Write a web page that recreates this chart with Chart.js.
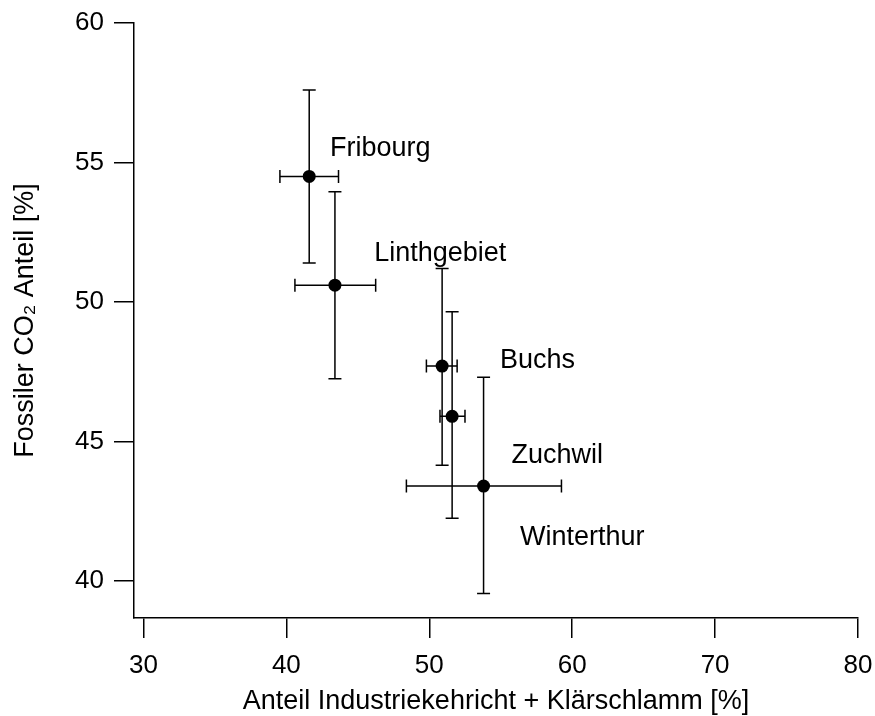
<!DOCTYPE html>
<html lang="de">
<head>
    <meta charset="UTF-8">
    <title>Fossiler CO2 Anteil</title>
    <style>
        * { margin: 0; padding: 0; box-sizing: border-box; }
        body { background: #fff; width: 875px; height: 716px; overflow: hidden; }
        .chart-box { position: relative; width: 875px; height: 716px; }
    </style>
</head>
<body>
    <div class="chart-box">
        <canvas id="chart"></canvas>
    </div>

    <script src="https://cdn.jsdelivr.net/npm/chart.js"></script>
    <script>
        // Daten
        const names = ["Fribourg", "Linthgebiet", "Buchs", "Zuchwil", "Winterthur"];
        const xValues = [41.6, 43.4, 50.9, 51.6, 53.8];
        const yValues = [54.5, 50.6, 47.7, 45.9, 43.4];
        const xErrLow = [39.55, 40.6, 49.8, 50.75, 48.4];
        const xErrHigh = [43.65, 46.25, 51.95, 52.5, 59.25];
        const yErrLow = [51.4, 47.25, 44.15, 42.25, 39.55];
        const yErrHigh = [57.6, 53.95, 51.2, 49.65, 47.3];
        // Beschriftungen (Datenkoordinaten, linker Rand / Mitte)
        const labelX = [43.05, 46.15, 54.95, 55.75, 56.35];
        const labelY = [55.5, 51.75, 47.9, 44.5, 41.55];
        const xTicks = [30, 40, 50, 60, 70, 80];
        const yTicks = [40, 45, 50, 55, 60];

        const FONT = "'Liberation Sans', Arial, sans-serif";

        // Fehlerbalken unter den Punkten, Namen darueber
        const errorBars = {
            id: 'errorBars',
            beforeDatasetsDraw(chart) {
                const c = chart.ctx;
                const xs = chart.scales.x, ys = chart.scales.y;
                const cap = 6.5;
                c.save();
                c.strokeStyle = '#000';
                c.lineWidth = 1.5;
                for (let i = 0; i < xValues.length; i++) {
                    const px = xs.getPixelForValue(xValues[i]);
                    const py = ys.getPixelForValue(yValues[i]);
                    const x0 = xs.getPixelForValue(xErrLow[i]);
                    const x1 = xs.getPixelForValue(xErrHigh[i]);
                    const y0 = ys.getPixelForValue(yErrLow[i]);
                    const y1 = ys.getPixelForValue(yErrHigh[i]);
                    c.beginPath();
                    c.moveTo(x0, py); c.lineTo(x1, py);
                    c.moveTo(x0, py - cap); c.lineTo(x0, py + cap);
                    c.moveTo(x1, py - cap); c.lineTo(x1, py + cap);
                    c.moveTo(px, y0); c.lineTo(px, y1);
                    c.moveTo(px - cap, y0); c.lineTo(px + cap, y0);
                    c.moveTo(px - cap, y1); c.lineTo(px + cap, y1);
                    c.stroke();
                }
                c.restore();
            },
            afterDatasetsDraw(chart) {
                const c = chart.ctx;
                const xs = chart.scales.x, ys = chart.scales.y;
                c.save();
                c.fillStyle = '#000';
                c.font = '27px ' + FONT;
                c.textAlign = 'left';
                c.textBaseline = 'middle';
                for (let i = 0; i < names.length; i++) {
                    c.fillText(names[i], xs.getPixelForValue(labelX[i]), ys.getPixelForValue(labelY[i]));
                }
                c.restore();
            }
        };

        const ctx = document.getElementById('chart');
        const chart = new Chart(ctx, {
            type: 'scatter',
            data: {
                datasets: [{
                    data: xValues.map((v, i) => ({ x: v, y: yValues[i] })),
                    pointRadius: 6.5,
                    pointBackgroundColor: '#000',
                    pointBorderColor: '#000',
                    pointBorderWidth: 0
                }]
            },
            plugins: [errorBars],
            options: {
                responsive: true,
                maintainAspectRatio: false,
                animation: false,
                events: [],
                layout: { padding: { top: 23, right: 17, left: 0, bottom: 0 } },
                plugins: { legend: { display: false }, tooltip: { enabled: false } },
                scales: {
                    x: {
                        type: 'linear',
                        min: 29.34,
                        max: 80,
                        afterBuildTicks: s => { s.ticks = xTicks.map(v => ({ value: v })); },
                        afterFit: s => { s.height = 98; s.paddingLeft = 0; s.paddingRight = 0; },
                        border: { display: true, color: '#000', width: 1.5 },
                        grid: { drawOnChartArea: false, drawTicks: true, tickLength: 20, color: '#000', lineWidth: 1.5 },
                        ticks: { color: '#000', padding: 12, maxRotation: 0, font: { size: 26, family: FONT } },
                        title: { display: true, text: 'Anteil Industriekehricht + Klärschlamm [%]', color: '#000', padding: { top: 2, bottom: -2 }, font: { size: 27, family: FONT } }
                    },
                    y: {
                        type: 'linear',
                        min: 38.67,
                        max: 60,
                        afterBuildTicks: s => { s.ticks = yTicks.map(v => ({ value: v })); },
                        afterFit: s => { s.width = 134; s.paddingTop = 0; s.paddingBottom = 0; },
                        border: { display: true, color: '#000', width: 1.5 },
                        grid: { drawOnChartArea: false, drawTicks: true, tickLength: 20, color: '#000', lineWidth: 1.5 },
                        ticks: { color: '#000', padding: 10, font: { size: 26, family: FONT } },
                        title: { display: true, text: 'Fossiler CO₂ Anteil [%]', color: '#000', padding: { top: 9, bottom: 0 }, font: { size: 27, family: FONT } }
                    }
                }
            }
        });
    </script>
</body>
</html>
